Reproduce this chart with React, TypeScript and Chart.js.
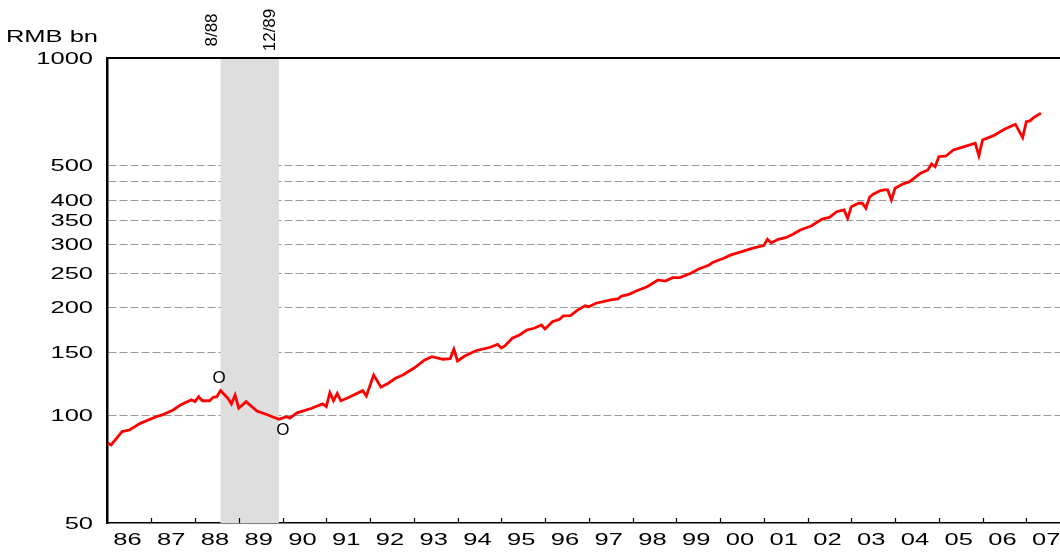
import React, { useEffect, useRef } from 'react';
import { Chart, registerables } from 'chart.js';

Chart.register(...registerables);

const dates = [
  '1986-01', '1986-02', '1986-05', '1986-07', '1986-10', '1987-02', '1987-04', '1987-07', '1987-09', '1987-10',
  '1987-12', '1988-01', '1988-02', '1988-03', '1988-05', '1988-06', '1988-07', '1988-08', '1988-10', '1988-11',
  '1988-12', '1989-01', '1989-03', '1989-06', '1989-09', '1989-12', '1990-02', '1990-03', '1990-05', '1990-09',
  '1990-12', '1991-01', '1991-02', '1991-03', '1991-04', '1991-05', '1991-07', '1991-11', '1991-12', '1992-02',
  '1992-04', '1992-06', '1992-08', '1992-10', '1993-01', '1993-04', '1993-06', '1993-09', '1993-11', '1993-12',
  '1994-01', '1994-03', '1994-06', '1994-10', '1994-12', '1995-01', '1995-02', '1995-04', '1995-06', '1995-08',
  '1995-10', '1995-12', '1996-01', '1996-03', '1996-05', '1996-06', '1996-08', '1996-10', '1996-12', '1997-01',
  '1997-03', '1997-07', '1997-09', '1997-10', '1997-12', '1998-02', '1998-05', '1998-08', '1998-10', '1998-12',
  '1999-02', '1999-05', '1999-07', '1999-10', '1999-11', '2000-02', '2000-04', '2000-07', '2000-10', '2001-01',
  '2001-02', '2001-03', '2001-05', '2001-07', '2001-09', '2001-11', '2002-02', '2002-05', '2002-07', '2002-09',
  '2002-11', '2002-12', '2003-01', '2003-03', '2003-04', '2003-05', '2003-06', '2003-07', '2003-09', '2003-10',
  '2003-11', '2003-12', '2004-01', '2004-03', '2004-05', '2004-08', '2004-10', '2004-11', '2004-12', '2005-01',
  '2005-03', '2005-05', '2005-08', '2005-11', '2005-12', '2006-01', '2006-04', '2006-07', '2006-10', '2006-12',
  '2007-01', '2007-02', '2007-03', '2007-05',
];

const values = [
  83.7, 82.7, 90.1, 91.0, 95.0, 98.8, 100.3, 103.6, 106.9, 108.1,
  110.5, 109.3, 112.8, 109.9, 109.9, 112.4, 112.8, 117.3, 111.7, 107.7,
  114.0, 104.7, 109.3, 102.9, 100.3, 97.5, 99.2, 98.3, 101.7, 104.7,
  107.7, 105.8, 115.8, 109.9, 115.3, 109.9, 112.1, 117.3, 113.3, 129.7,
  119.9, 123.0, 127.0, 129.7, 135.5, 142.9, 146.0, 143.6, 144.2, 153.1,
  142.0, 146.6, 151.7, 155.1, 158.1, 154.4, 156.4, 164.4, 167.9, 173.4,
  175.3, 179.1, 174.5, 182.9, 185.7, 189.8, 190.1, 197.2, 202.8, 201.5,
  206.0, 210.4, 211.8, 215.8, 218.2, 222.8, 229.1, 239.3, 237.7, 242.9,
  242.9, 249.9, 256.4, 263.6, 268.0, 275.1, 281.2, 287.3, 293.7, 298.6,
  311.0, 304.2, 311.0, 314.2, 321.3, 330.3, 338.8, 354.4, 358.2, 371.4,
  375.7, 356.0, 383.8, 392.3, 392.3, 379.9, 407.6, 415.8, 425.6, 427.5,
  427.5, 400.9, 432.1, 443.3, 450.9, 475.9, 486.0, 505.2, 496.5, 529.5,
  532.0, 552.9, 565.0, 577.4, 533.0, 589.8, 606.4, 632.0, 652.8, 598.6,
  663.9, 666.9, 681.0, 700.6,
];

const yTickValues = [50, 100, 150, 200, 250, 300, 350, 400, 450, 500, 1000];
const yTickLabels = ['50', '100', '150', '200', '250', '300', '350', '400', '', '500', '1000'];
const yearLabels = ['86', '87', '88', '89', '90', '91', '92', '93', '94', '95', '96', '97', '98', '99', '00', '01', '02', '03', '04', '05', '06', '07'];
const firstYear = 1986;
const shadeFrom = '1988-08';
const shadeTo = '1989-12';
const shadeLabels = ['8/88', '12/89'];
const unitLabel = 'RMB bn';
const turnMarkers = [
  { date: '1988-08', text: 'O', dx: -1.5, dy: -12 },
  { date: '1989-12', text: 'O', dx: 4, dy: 10.5 },
];

const FONT = '"Liberation Sans", Arial, sans-serif';
const STRETCH = 1.5;

function toYear(d: string): number {
  const [y, m] = d.split('-').map(Number);
  return y + (m - 1) / 12;
}

const overlayPlugin = {
  id: 'overlay',
  beforeDatasetsDraw(chart: any) {
    const { ctx, chartArea, scales } = chart;
    const x0 = scales.x.getPixelForValue(toYear(shadeFrom));
    const x1 = scales.x.getPixelForValue(toYear(shadeTo));
    ctx.save();
    ctx.fillStyle = '#dedede';
    ctx.fillRect(x0, chartArea.top, x1 - x0, chartArea.bottom - chartArea.top);
    ctx.restore();
  },
  afterDraw(chart: any) {
    const { ctx, chartArea, scales } = chart;
    const xs = scales.x;
    const ys = scales.y;
    ctx.save();
    // top border
    ctx.strokeStyle = '#000';
    ctx.lineWidth = 2;
    ctx.beginPath();
    ctx.moveTo(chartArea.left, chartArea.top);
    ctx.lineTo(chartArea.right, chartArea.top);
    ctx.stroke();
    // year tick marks
    ctx.lineWidth = 1.2;
    for (let i = 1; i < yearLabels.length; i++) {
      const x = Math.round(xs.getPixelForValue(firstYear + i)) + 0.5;
      ctx.beginPath();
      ctx.moveTo(x, chartArea.bottom);
      ctx.lineTo(x, chartArea.bottom - 5);
      ctx.stroke();
    }
    ctx.fillStyle = '#000';
    ctx.font = `17px ${FONT}`;
    ctx.textBaseline = 'alphabetic';
    // x labels
    yearLabels.forEach((lab, i) => {
      const x = xs.getPixelForValue(firstYear + i + 0.5) - 2;
      ctx.save();
      ctx.translate(x, chartArea.bottom + 22);
      ctx.scale(STRETCH, 1);
      ctx.textAlign = 'center';
      ctx.fillText(lab, 0, 0);
      ctx.restore();
    });
    // y labels
    yTickValues.forEach((v, i) => {
      const lab = yTickLabels[i];
      if (!lab) return;
      const y = ys.getPixelForValue(v);
      ctx.save();
      ctx.translate(93, y + 5.5);
      ctx.scale(STRETCH, 1);
      ctx.textAlign = 'right';
      ctx.fillText(lab, 0, 0);
      ctx.restore();
    });
    // unit label
    ctx.save();
    ctx.translate(98, 42);
    ctx.scale(STRETCH, 1);
    ctx.textAlign = 'right';
    ctx.fillText(unitLabel, 0, 0);
    ctx.restore();
    // rotated shade labels
    [shadeFrom, shadeTo].forEach((d, i) => {
      const x = xs.getPixelForValue(toYear(d)) - 3.5;
      ctx.save();
      ctx.translate(x, 30);
      ctx.rotate(-Math.PI / 2);
      ctx.textAlign = 'center';
      ctx.textBaseline = 'alphabetic';
      ctx.fillText(shadeLabels[i], 0, 0);
      ctx.restore();
    });
    // turning-point markers
    turnMarkers.forEach((m) => {
      const idx = dates.indexOf(m.date);
      const x = xs.getPixelForValue(toYear(m.date)) + m.dx;
      const y = ys.getPixelForValue(values[idx]) + m.dy;
      ctx.textAlign = 'center';
      ctx.textBaseline = 'middle';
      ctx.fillText(m.text, x, y);
    });
    ctx.restore();
  },
};

export default function App() {
  const ref = useRef<HTMLCanvasElement | null>(null);

  useEffect(() => {
    if (!ref.current) return;
    const points = dates.map((d, i) => ({ x: toYear(d), y: values[i] }));
    const chart = new Chart(ref.current, {
      type: 'line',
      data: {
        datasets: [
          {
            data: points,
            borderColor: '#ff0000',
            borderWidth: 2.8,
            pointRadius: 0,
            tension: 0,
            fill: false,
          },
        ],
      },
      options: {
        animation: false,
        responsive: false,
        devicePixelRatio: 1,
        layout: { padding: { left: 107.5, top: 58, right: 0, bottom: 29 } },
        plugins: { legend: { display: false }, tooltip: { enabled: false } },
        scales: {
          x: {
            type: 'linear',
            min: 1986,
            max: 2007.77,
            ticks: { display: false },
            grid: { display: false, drawTicks: false },
            border: { display: true, color: '#000', width: 1.5 },
          },
          y: {
            type: 'logarithmic',
            min: 50,
            max: 1000,
            afterBuildTicks: (axis: any) => {
              axis.ticks = yTickValues.map((v) => ({ value: v }));
            },
            ticks: { display: false },
            grid: {
              drawTicks: false,
              lineWidth: 1,
              color: (c: any) =>
                c.tick && (c.tick.value === 50 || c.tick.value === 1000) ? 'rgba(0,0,0,0)' : '#999999',
            },
            border: { display: true, color: '#000', width: 2.5, dash: [8, 3] },
          },
        },
      },
      plugins: [overlayPlugin],
    });
    return () => chart.destroy();
  }, []);

  return (
    <div style={{ position: 'absolute', left: 0, top: 0, width: 1060, height: 552, background: '#fff' }}>
      <canvas ref={ref} width={1060} height={552} style={{ display: 'block' }} />
    </div>
  );
}
